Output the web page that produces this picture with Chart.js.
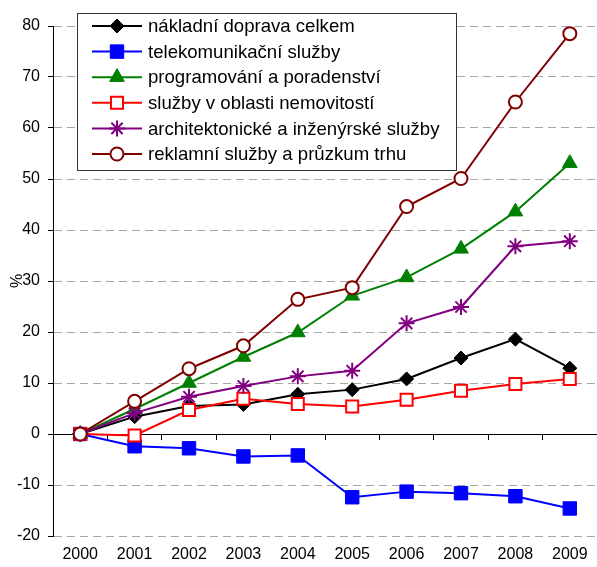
<!DOCTYPE html>
<html>
<head>
<meta charset="utf-8">
<script src="https://cdn.jsdelivr.net/npm/chart.js@4.4.0/dist/chart.umd.min.js"></script>
<style>
  html, body { margin: 0; padding: 0; background: #fff; }
  #obal { position: relative; width: 597px; height: 567px; }
</style>
</head>
<body>
<div id="obal"><canvas id="graf" width="597" height="567"></canvas></div>
<script>
// data (% zmena oproti roku 2000)
var roky = ['2000', '2001', '2002', '2003', '2004', '2005', '2006', '2007', '2008', '2009'];
var nakladniDoprava = [0, 3.4, 5.5, 5.8, 7.8, 8.7, 10.8, 14.9, 18.6, 12.9];
var telekomunikace  = [0, -2.4, -2.8, -4.4, -4.2, -12.4, -11.3, -11.6, -12.2, -14.6];
var programovani    = [0, 4.9, 10.0, 15.1, 19.9, 27.1, 30.7, 36.3, 43.6, 53.1];
var nemovitosti     = [0, -0.3, 4.7, 6.9, 5.9, 5.4, 6.7, 8.5, 9.8, 10.8];
var architektura    = [0, 4.1, 7.3, 9.4, 11.3, 12.4, 21.7, 24.9, 36.8, 37.8];
var reklama         = [0, 6.4, 12.8, 17.3, 26.4, 28.7, 44.6, 50.1, 65.1, 78.5];
var nazvyRad = [
  'nákladní doprava celkem',
  'telekomunikační služby',
  'programování a poradenství',
  'služby v oblasti nemovitostí',
  'architektonické a inženýrské služby',
  'reklamní služby a průzkum trhu'
];
var osaYMin = -20, osaYMax = 80, osaYKrok = 10;

var pismo = '"Liberation Sans", Arial, sans-serif';

function rada(i, data, barva, styl, polomer, vypln, okraj) {
  return {
    label: nazvyRad[i],
    data: data,
    borderColor: barva,
    backgroundColor: barva,
    borderWidth: 2,
    tension: 0,
    pointStyle: styl,
    pointRadius: polomer,
    pointHoverRadius: polomer,
    pointBackgroundColor: vypln,
    pointBorderColor: barva,
    pointBorderWidth: okraj,
    order: 6 - i
  };
}

// legenda uvnitr grafu s ramečkem
var legendaPlugin = {
  id: 'legendaVGrafu',
  afterDraw: function(chart) {
    var ctx = chart.ctx;
    var ca = chart.chartArea;
    var x0 = ca.left + 24, y0 = ca.top - 13, sirka = 379, vyska = 157;
    ctx.save();
    ctx.fillStyle = '#fff';
    ctx.fillRect(x0, y0, sirka, vyska);
    ctx.strokeStyle = '#333';
    ctx.lineWidth = 1;
    ctx.strokeRect(x0 + 0.5, y0 + 0.5, sirka, vyska);
    ctx.font = '18.6px ' + pismo;
    ctx.textBaseline = 'middle';
    chart.data.datasets.forEach(function(ds, i) {
      var y = y0 + 13 + i * 25.6;
      ctx.strokeStyle = ds.borderColor;
      ctx.lineWidth = 2;
      ctx.beginPath();
      ctx.moveTo(x0 + 15, y);
      ctx.lineTo(x0 + 65, y);
      ctx.stroke();
      ctx.fillStyle = ds.pointBackgroundColor;
      ctx.strokeStyle = ds.pointBorderColor;
      ctx.lineWidth = ds.pointBorderWidth;
      Chart.helpers.drawPoint(ctx, {
        pointStyle: ds.pointStyle,
        radius: ds.pointRadius,
        rotation: 0,
        borderWidth: ds.pointBorderWidth
      }, x0 + 40, y);
      ctx.fillStyle = '#000';
      ctx.fillText(ds.label, x0 + 71, y + 1);
    });
    ctx.restore();
  }
};

var ctx = document.getElementById('graf').getContext('2d');
var graf = new Chart(ctx, {
  type: 'line',
  data: {
    labels: roky,
    datasets: [
      rada(0, nakladniDoprava, '#000000', 'rectRot', 7, '#000000', 1),
      rada(1, telekomunikace, '#0000ff', 'rect', 9.5, '#0000ff', 1),
      rada(2, programovani, '#008000', 'triangle', 8.5, '#008000', 1),
      rada(3, nemovitosti, '#ff0000', 'rect', 8.5, '#ffffff', 2),
      rada(4, architektura, '#800080', 'star', 8, '#800080', 2),
      rada(5, reklama, '#800000', 'circle', 6.5, '#ffffff', 2)
    ]
  },
  options: {
    responsive: false,
    animation: false,
    layout: { autoPadding: false, padding: { top: 26, right: 0, left: 0, bottom: 0 } },
    plugins: {
      legend: { display: false },
      tooltip: { enabled: false },
      title: { display: false }
    },
    scales: {
      x: {
        type: 'category',
        offset: true,
        grid: { display: false, drawTicks: false },
        border: { display: false },
        ticks: {
          color: '#000',
          font: { family: pismo, size: 16 },
          padding: 9,
          maxRotation: 0,
          autoSkip: false
        },
        afterFit: function(scale) {
          scale.height = 31;
          scale.paddingLeft = 0;
          scale.paddingRight = 0;
        }
      },
      x2: {
        type: 'category',
        position: { y: 0 },
        offset: true,
        grid: {
          offset: true,
          drawOnChartArea: false,
          drawTicks: true,
          tickLength: 5,
          tickColor: '#000',
          color: '#000'
        },
        border: { display: true, color: '#000', width: 1 },
        ticks: { display: false }
      },
      y: {
        min: osaYMin,
        max: osaYMax,
        ticks: {
          stepSize: osaYKrok,
          color: '#000',
          font: { family: pismo, size: 16 },
          padding: 8
        },
        grid: {
          color: function(c) { return c.tick && c.tick.value === 0 ? '#000' : '#a6a6a6'; },
          tickColor: '#000',
          tickLength: 5,
          lineWidth: 1
        },
        border: {
          display: true,
          color: '#000',
          width: 1,
          dash: function(c) { return c.tick && c.tick.value === 0 ? [] : [8, 5]; }
        },
        title: {
          display: true,
          text: '%',
          color: '#000',
          font: { family: pismo, size: 16 },
          padding: { top: 8, bottom: 0 }
        },
        afterFit: function(scale) { scale.width = 53; }
      }
    }
  },
  plugins: [legendaPlugin]
});
</script>
</body>
</html>
